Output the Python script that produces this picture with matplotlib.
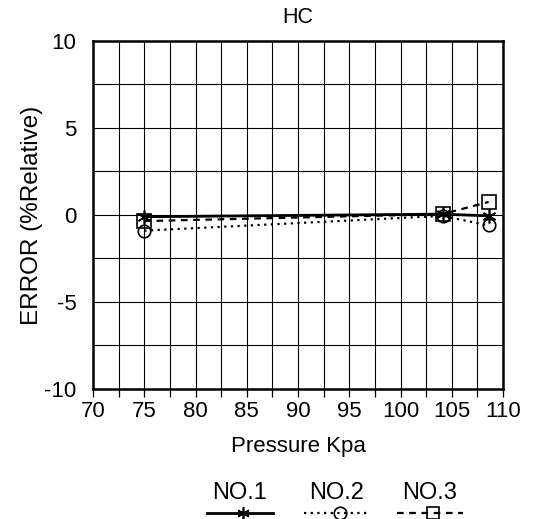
import numpy as np
import matplotlib
matplotlib.use('Agg')
from matplotlib import pyplot as plt
from matplotlib.lines import Line2D

plt.rcParams['font.family'] = ['Liberation Sans', 'DejaVu Sans']
plt.rcParams['axes.unicode_minus'] = False

pressure = [75, 104.1, 108.6]
no1 = [-0.1, 0.05, -0.05]
no2 = [-0.9, -0.05, -0.6]
no3 = [-0.35, 0.05, 0.75]
labels = ['NO.1', 'NO.2', 'NO.3']

fig = plt.figure(figsize=(5.55, 5.19), dpi=100)
ax = fig.add_axes([0.1676, 0.2505, 0.7387, 0.6705])

ax.plot(pressure, no1, color='black', lw=2.0, ls='-', marker=(6, 2, 0), ms=10, mew=1.2, zorder=5)
ax.plot(pressure, no2, color='black', lw=1.6, ls=(0, (1, 2)), marker='o', ms=9, mfc='none', mew=1.2, zorder=4)
ax.plot(pressure, no3, color='black', lw=1.6, ls=(0, (3, 2.5)), marker='s', ms=10, mfc='none', mew=1.2, zorder=4)

ax.set_xlim(70, 110)
ax.set_ylim(-10, 10)
ax.set_xticks(np.arange(70, 111, 5))
ax.set_xticks(np.arange(70, 111, 2.5), minor=True)
ax.set_yticks(np.arange(-10, 11, 5))
ax.set_yticks(np.arange(-10, 11, 2.5), minor=True)
ax.grid(True, which='both', color='black', lw=0.8)
ax.tick_params(axis='x', which='both', direction='out', length=6, width=0.9, labelsize=16, pad=3)
ax.tick_params(axis='y', which='both', length=0, labelsize=16, pad=12)
for s in ax.spines.values():
    s.set_linewidth(1.8)

ax.set_title('HC', fontsize=15.5, pad=13)
ax.set_xlabel('Pressure Kpa', fontsize=16, labelpad=10)
ax.set_ylabel('ERROR (%Relative)', fontsize=17.5, labelpad=1)

# legend below the plot: label text above a line sample
styles = [dict(ls='-', lw=2.0, marker=(6, 2, 0), ms=9, mew=1.2),
          dict(ls=(0, (1, 2)), lw=1.6, marker='o', ms=9, mfc='none', mew=1.2),
          dict(ls=(0, (3, 2.5)), lw=1.6, marker='s', ms=9, mfc='none', mew=1.2)]
centers = [240 / 555, 337 / 555, 430 / 555]
for lab, st, cx in zip(labels, styles, centers):
    fig.text(cx, 1 - 493 / 519, lab, ha='center', va='center', fontsize=17)
    yy = 1 - 513 / 519
    fig.add_artist(Line2D([cx - 0.06, cx + 0.06], [yy, yy], color='black',
                          transform=fig.transFigure, ls=st['ls'], lw=st['lw']))
    fig.add_artist(Line2D([cx + 0.005], [yy], color='black', ls='none', transform=fig.transFigure,
                          marker=st['marker'], ms=st['ms'], mfc=st.get('mfc', 'black'), mew=st['mew']))

fig.savefig('out.png', dpi=100)
